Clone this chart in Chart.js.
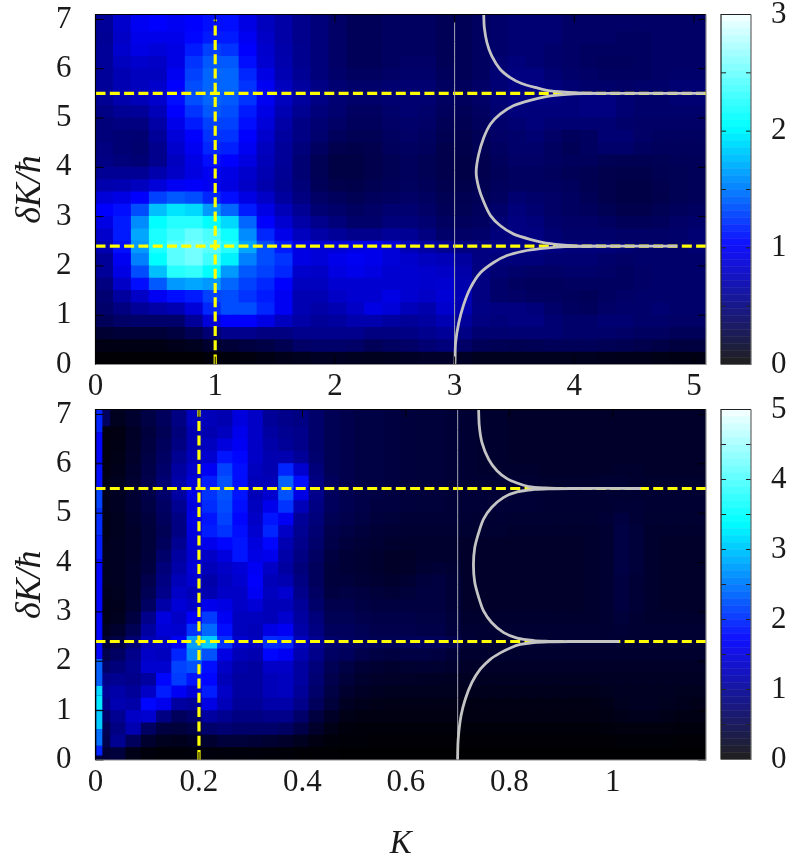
<!DOCTYPE html>
<html>
<head>
<meta charset="utf-8">
<script src="https://cdn.jsdelivr.net/npm/chart.js@4"></script>
<style>
html, body { margin: 0; background: #fff; }
canvas { position: absolute; }
</style>
</head>
<body>
<canvas id="topMap" width="720" height="400" style="left:0;top:0"></canvas>
<canvas id="topBar" width="89" height="400" style="left:700px;top:0"></canvas>
<canvas id="lowMap" width="720" height="469" style="left:0;top:395px"></canvas>
<canvas id="lowBar" width="89" height="400" style="left:700px;top:395px"></canvas>
<script>
// row heights in deltaK, bottom row first (the top row reaches the axis end at 7.1)
const rowHeights = [.25,.25,.25,.25,.25,.25,.25,.25,.25,.25,.25,.25,.25,.25,.25,.25,.25,.25,.25,.25,.25,.25,.25,.25,.25,.25,.25,.35];

// column centres in K
const topK = [.075,.225,.375,.525,.675,.825,.975,1.125,1.275,1.425,1.575,1.725,1.875,2.025,2.175,2.325,2.475,2.625,2.775,2.925,3.075,3.225,3.375,3.525,3.675,3.825,3.975,4.125,4.275,4.425,4.575,4.725,4.875,5.025];
const lowK = [.01475,.04425,.07375,.10325,.13275,.16225,.19175,.22125,.25075,.28025,.30975,.33925,.36875,.39825,.42775,.45725,.48675,.51625,.54575,.57525,.60475,.63425,.66375,.69325,.72275,.75225,.78175,.81125,.84075,.87025,.89975,.92925,.95875,.98825,1.01775,1.04725,1.07675,1.10625,1.13575,1.16525];

// upper panel, rows listed from deltaK = 7 down to 0, 34 columns over K = 0..5.1
const topRows = [
[.6,.8,.95,1,.95,1,1.05,1.05,.9,.75,.65,.55,.48,.4,.35,.35,.38,.38,.38,.34,.34,.38,.42,.45,.45,.45,.4,.4,.4,.4,.4,.4,.4,.4],
[.58,.78,.92,.92,.92,1.02,1.1,1.1,.95,.78,.65,.55,.48,.4,.35,.35,.38,.38,.38,.34,.34,.38,.42,.45,.45,.45,.4,.4,.4,.38,.38,.4,.4,.4],
[.6,.8,.9,.85,.9,1.1,1.25,1.2,1,.8,.67,.56,.48,.4,.35,.35,.38,.38,.38,.34,.34,.38,.42,.45,.45,.42,.4,.38,.38,.38,.38,.4,.4,.4],
[.6,.75,.8,.78,.9,1.2,1.35,1.35,1.05,.82,.68,.56,.48,.4,.35,.35,.38,.4,.4,.34,.34,.38,.44,.48,.45,.42,.4,.38,.36,.36,.38,.4,.4,.4],
[.6,.7,.75,.75,.95,1.25,1.4,1.4,1.15,.9,.7,.58,.48,.42,.38,.38,.4,.42,.42,.36,.34,.38,.46,.5,.5,.45,.42,.4,.38,.38,.38,.4,.42,.42],
[.6,.7,.75,.8,1,1.3,1.4,1.4,1.2,.95,.75,.62,.52,.45,.42,.42,.44,.44,.44,.38,.36,.4,.46,.5,.5,.48,.45,.42,.42,.4,.42,.42,.45,.45],
[.58,.68,.72,.8,1.05,1.3,1.4,1.35,1.2,.95,.75,.62,.52,.45,.42,.42,.44,.44,.44,.38,.36,.4,.46,.5,.5,.5,.48,.5,.5,.45,.42,.42,.45,.45],
[.52,.58,.6,.72,1,1.2,1.35,1.3,1.1,.9,.7,.57,.48,.43,.38,.38,.42,.44,.42,.36,.34,.38,.44,.48,.48,.48,.48,.5,.5,.45,.42,.42,.42,.42],
[.48,.5,.5,.65,.92,1.1,1.25,1.25,1.05,.85,.65,.52,.45,.4,.36,.36,.4,.42,.4,.34,.32,.36,.42,.45,.48,.45,.45,.45,.45,.42,.4,.4,.4,.4],
[.48,.46,.45,.6,.85,1,1.2,1.2,1,.8,.62,.52,.43,.36,.33,.33,.38,.4,.38,.32,.3,.34,.4,.42,.45,.4,.36,.38,.45,.45,.4,.38,.38,.38],
[.5,.46,.43,.55,.8,.95,1.15,1.12,.95,.75,.6,.48,.38,.31,.29,.31,.36,.38,.36,.3,.29,.33,.38,.42,.42,.38,.34,.38,.42,.42,.38,.36,.36,.36],
[.52,.48,.46,.55,.75,.9,1.05,1,.88,.72,.6,.45,.33,.27,.27,.3,.33,.36,.33,.3,.28,.31,.36,.4,.4,.38,.36,.36,.33,.32,.32,.33,.35,.35],
[.58,.58,.58,.68,.78,.88,.95,.9,.8,.7,.58,.45,.33,.27,.27,.3,.33,.36,.33,.3,.28,.31,.35,.38,.38,.36,.34,.32,.3,.29,.29,.32,.33,.35],
[.68,.7,.75,.85,.95,.98,.95,.88,.78,.68,.57,.47,.35,.3,.29,.32,.35,.37,.35,.31,.29,.32,.36,.38,.38,.38,.36,.32,.3,.28,.28,.31,.33,.35],
[.85,.9,1,1.25,1.35,1.3,1.15,1.05,.9,.78,.62,.5,.4,.36,.33,.36,.38,.4,.38,.33,.32,.34,.38,.44,.42,.4,.38,.34,.3,.28,.28,.3,.33,.35],
[1,1.05,1.3,1.75,1.9,1.85,1.6,1.4,1.1,.9,.72,.58,.45,.42,.38,.4,.44,.44,.4,.35,.33,.36,.42,.48,.44,.4,.38,.36,.33,.3,.3,.33,.36,.38],
[.9,1.1,1.55,2,2.15,2.15,2,1.85,1.4,1,.82,.65,.55,.48,.42,.42,.48,.48,.44,.38,.36,.38,.45,.5,.48,.42,.4,.4,.38,.35,.35,.36,.4,.42],
[.8,1.1,1.65,2.1,2.25,2.4,2.3,2.05,1.55,1.15,.92,.75,.65,.6,.55,.55,.6,.58,.5,.42,.4,.42,.48,.5,.5,.45,.42,.42,.42,.4,.4,.4,.42,.45],
[.7,1.05,1.6,2.1,2.35,2.45,2.35,2.15,1.65,1.3,1.1,.9,.85,.85,.9,.92,.85,.72,.65,.58,.5,.5,.52,.52,.52,.5,.48,.48,.48,.45,.42,.42,.42,.45],
[.6,.95,1.5,2,2.35,2.45,2.25,1.95,1.5,1.3,1.2,.9,.85,.92,.95,.92,.85,.8,.75,.72,.62,.5,.48,.48,.48,.45,.45,.45,.42,.4,.42,.42,.42,.42],
[.6,.9,1.3,1.75,2.15,2.2,2,1.6,1.35,1.25,1.15,.8,.78,.88,.92,.88,.82,.82,.8,.78,.66,.5,.45,.42,.4,.4,.42,.42,.4,.38,.4,.42,.42,.42],
[.5,.78,1.05,1.35,1.6,1.65,1.6,1.4,1.25,1.15,1,.75,.75,.82,.82,.82,.82,.82,.8,.82,.68,.5,.42,.38,.36,.36,.38,.38,.38,.38,.4,.42,.42,.42],
[.45,.62,.78,.95,1.05,1.1,1.25,1.3,1.2,1.1,.95,.7,.7,.78,.82,.82,.9,.82,.78,.84,.7,.5,.42,.4,.38,.38,.36,.35,.38,.4,.42,.42,.42,.42],
[.42,.5,.6,.65,.7,.85,1.15,1.3,1.3,1.15,.95,.7,.65,.7,.78,.9,.85,.73,.68,.8,.68,.52,.5,.5,.48,.42,.38,.36,.4,.42,.42,.45,.42,.42],
[.35,.4,.42,.42,.42,.6,.85,1,1,.9,.75,.65,.6,.62,.68,.68,.63,.6,.63,.7,.6,.5,.48,.5,.5,.45,.42,.42,.45,.45,.42,.42,.4,.4],
[.2,.22,.22,.22,.25,.33,.45,.55,.55,.5,.5,.55,.55,.55,.55,.5,.5,.52,.56,.6,.52,.44,.44,.45,.45,.45,.42,.42,.42,.4,.38,.38,.35,.35],
[.08,.08,.08,.08,.1,.12,.18,.22,.25,.28,.32,.4,.42,.42,.4,.35,.38,.4,.45,.48,.4,.35,.33,.32,.33,.35,.35,.35,.33,.32,.3,.28,.25,.25],
[.02,.02,.02,.02,.02,.02,.04,.05,.06,.08,.1,.12,.14,.14,.13,.12,.13,.15,.17,.17,.15,.12,.12,.12,.12,.12,.12,.12,.11,.1,.1,.09,.08,.08]
];

// lower panel, rows from deltaK = 7 down to 0, 40 columns over K = 0..1.18
const lowRows = [
[.6,.2,.3,.45,.6,.85,1.25,1.2,1.15,1.45,1.3,1,.9,.85,.7,.55,.5,.45,.45,.42,.4,.38,.38,.36,.33,.3,.3,.28,.28,.28,.28,.28,.28,.28,.28,.28,.28,.28,.28,.28],
[.1,.12,.25,.4,.55,.8,1.15,1.15,1.25,1.55,1.3,1.05,.95,.9,.7,.55,.5,.45,.45,.42,.4,.38,.38,.36,.33,.3,.3,.28,.28,.28,.28,.28,.28,.28,.28,.28,.28,.28,.28,.28],
[.1,.13,.27,.42,.6,.85,1.15,1.25,1.45,1.6,1.3,1.1,1,.9,.7,.55,.5,.45,.45,.42,.4,.38,.38,.36,.33,.3,.3,.28,.28,.28,.28,.28,.28,.28,.28,.28,.28,.28,.28,.28],
[.1,.15,.28,.45,.65,.95,1.2,1.35,1.8,1.7,1.3,1.15,1.15,1,.72,.55,.5,.45,.45,.42,.4,.38,.38,.36,.33,.3,.3,.28,.28,.28,.28,.28,.28,.28,.28,.28,.28,.28,.28,.28],
[.12,.17,.3,.48,.7,1.05,1.3,1.6,2.1,1.75,1.25,1.15,1.9,1.35,.8,.55,.5,.45,.45,.42,.4,.38,.38,.36,.33,.3,.3,.3,.3,.28,.28,.28,.28,.28,.3,.3,.28,.28,.28,.28],
[.15,.2,.32,.5,.75,1.1,1.4,1.85,2.2,1.75,1.2,1.2,2.3,1.75,.85,.6,.5,.45,.45,.42,.4,.38,.38,.36,.33,.33,.33,.33,.33,.3,.3,.3,.3,.33,.33,.3,.3,.3,.3,.3],
[.18,.22,.33,.48,.7,1.05,1.5,2,2.2,1.8,1.2,1.35,2.2,1.5,.9,.6,.52,.48,.45,.42,.4,.38,.38,.36,.35,.35,.35,.35,.35,.33,.33,.33,.33,.33,.33,.33,.33,.33,.33,.33],
[.18,.22,.33,.45,.65,.95,1.45,1.95,2.15,1.75,1.25,1.55,2,1.2,.85,.6,.52,.48,.42,.42,.4,.38,.38,.36,.35,.35,.35,.35,.35,.33,.33,.33,.33,.33,.35,.35,.33,.33,.33,.33],
[.15,.2,.3,.4,.6,.85,1.5,1.8,2.1,1.7,1.3,1.8,1.6,1,.8,.55,.5,.45,.4,.38,.36,.36,.36,.35,.33,.33,.33,.32,.32,.32,.32,.32,.32,.35,.42,.35,.32,.32,.32,.32],
[.15,.2,.28,.38,.55,.85,1.45,1.85,2,1.75,1.35,1.9,1.3,.95,.75,.5,.45,.4,.36,.34,.33,.33,.33,.33,.32,.32,.32,.3,.3,.3,.3,.3,.3,.33,.45,.38,.3,.3,.3,.3],
[.18,.22,.28,.38,.6,.95,1.4,1.55,1.7,1.8,1.45,1.7,1.15,.9,.7,.48,.4,.36,.33,.3,.3,.3,.3,.3,.28,.28,.28,.28,.28,.28,.28,.28,.3,.33,.45,.38,.3,.28,.28,.28],
[.2,.22,.28,.4,.7,1.05,1.35,1.3,1.45,1.8,1.5,1.55,1.1,.85,.65,.42,.36,.33,.3,.27,.27,.3,.3,.3,.28,.28,.28,.28,.28,.28,.28,.28,.3,.33,.45,.38,.3,.28,.28,.28],
[.2,.22,.3,.42,.8,1.1,1.4,1.2,1.3,1.4,1.6,1.3,1.05,.8,.6,.4,.36,.33,.3,.27,.28,.33,.36,.33,.28,.28,.28,.28,.28,.28,.28,.28,.3,.33,.45,.38,.3,.28,.28,.28],
[.2,.22,.3,.5,.85,1.2,1.35,1.1,1.25,1.35,1.65,1.2,1.15,.85,.6,.4,.4,.36,.33,.3,.33,.4,.42,.36,.28,.28,.28,.28,.28,.28,.28,.28,.3,.33,.42,.36,.3,.28,.28,.28],
[.18,.2,.3,.55,.9,1.3,1.2,1.15,1.3,1.3,1.6,1.25,1.35,.9,.65,.42,.45,.42,.38,.36,.38,.42,.42,.36,.28,.28,.28,.28,.28,.28,.28,.28,.3,.33,.42,.36,.3,.28,.28,.28],
[.15,.18,.32,.65,1.1,1.4,1.3,1.55,1.5,1.3,1.4,1.2,1.2,1,.7,.5,.5,.45,.42,.42,.42,.42,.42,.36,.28,.28,.28,.28,.28,.28,.28,.28,.3,.33,.42,.36,.3,.28,.28,.28],
[.15,.2,.42,.9,1.45,1.3,1.65,2.05,1.6,1.25,1.25,1.2,1.35,1.05,.8,.55,.55,.5,.48,.48,.48,.45,.45,.38,.3,.3,.3,.3,.3,.3,.3,.3,.3,.33,.38,.33,.3,.3,.3,.3],
[.22,.3,.55,1.05,1.4,1.35,2,2.35,1.75,1.25,1.2,1.5,1.6,1.1,.85,.6,.6,.55,.5,.5,.5,.48,.48,.4,.33,.33,.33,.33,.33,.33,.33,.33,.33,.33,.36,.33,.33,.33,.33,.33],
[.35,.45,.75,1.2,1.3,1.6,2.7,3,2,1.35,1.25,1.95,1.9,1.25,.95,.7,.65,.6,.55,.55,.58,.6,.58,.5,.35,.33,.33,.33,.33,.33,.33,.33,.33,.33,.33,.33,.33,.33,.33,.33],
[.5,.65,.9,1.3,1.25,1.9,2.55,2.2,1.5,1.2,1.15,1.7,1.6,1.15,.9,.65,.6,.5,.45,.42,.45,.45,.42,.36,.3,.3,.3,.3,.3,.3,.3,.3,.3,.3,.3,.3,.3,.3,.3,.3],
[.7,.8,.95,1.35,1.35,2.1,2.2,1.75,1.3,1.1,1.05,1.3,1.3,1.05,.8,.55,.45,.36,.33,.3,.32,.33,.32,.3,.27,.27,.27,.27,.27,.27,.27,.27,.27,.27,.27,.27,.27,.27,.27,.27],
[.9,.95,.9,1.05,1.7,2.05,1.8,1.7,1.2,1.05,1.05,1.2,1.25,1.05,.75,.5,.38,.3,.28,.26,.26,.25,.24,.22,.22,.22,.22,.22,.22,.22,.22,.22,.22,.24,.24,.24,.24,.24,.24,.24],
[1,1.1,1,1.3,1.85,1.6,1.4,1.85,1.3,1.05,1.05,1.2,1.25,1,.7,.45,.3,.25,.22,.2,.2,.2,.2,.2,.18,.18,.18,.18,.18,.18,.18,.18,.18,.2,.22,.22,.22,.22,.2,.2],
[.9,1.15,1.1,1.7,1.55,1.05,1,1.5,1.2,1,1,1.1,1.1,.9,.6,.38,.22,.18,.16,.15,.15,.15,.15,.15,.14,.14,.14,.14,.14,.14,.14,.14,.14,.16,.2,.22,.22,.2,.18,.16],
[.7,.95,1.3,1.35,.85,.6,.7,1.05,.95,.85,.85,.9,.9,.7,.42,.25,.15,.12,.12,.12,.12,.12,.12,.12,.12,.12,.12,.12,.12,.12,.12,.12,.12,.13,.16,.18,.18,.16,.14,.13],
[.55,.85,1.15,.65,.42,.38,.45,.7,.75,.7,.7,.7,.65,.48,.28,.15,.08,.07,.07,.07,.07,.07,.07,.07,.07,.07,.07,.07,.07,.07,.07,.07,.07,.08,.1,.1,.1,.09,.08,.08],
[.5,.95,.6,.3,.2,.18,.22,.3,.38,.38,.35,.32,.28,.2,.12,.07,.05,.05,.04,.04,.04,.04,.04,.04,.04,.04,.04,.04,.04,.04,.04,.04,.04,.04,.05,.05,.05,.05,.04,.04],
[.35,.4,.15,.08,.06,.06,.07,.08,.08,.08,.08,.07,.06,.04,.03,.03,.02,.02,.02,.02,.02,.02,.02,.02,.02,.02,.02,.02,.02,.02,.02,.02,.02,.02,.02,.02,.02,.02,.02,.02]
];

// the narrow bright column right at K = 0 in the lower panel
const stripK = [.0074,.0074,.0074,.0074,.0074,.0074,.0074,.0074,.0074,.0074,.0074,.0074,.0074,.0074,.0074,.0074];
const stripDK = [.03,.09,.29,.63,1.03,1.3,1.5,2.05,3.06,4.07,4.55,5.09,5.49,6.03,6.64,7.1];
const stripVal = [.4,1.9,2.4,3,3.2,3.1,2.3,1.7,1.7,1.85,1.95,2.1,1.75,1.7,1.9,1.9];

// grey theory curves, upper panel
const topCurveA = [[3,0],[3.003,.03],[3.008,.44],[3.034,.84],[3.075,1.21],[3.131,1.55],[3.215,1.86],[3.326,2.07],[3.438,2.21],[3.577,2.3],[3.717,2.35],[3.856,2.38],[4,2.395],[4.2,2.4],[4.5,2.4],[4.86,2.4]];
const topCurveB = [[4.2,2.4],[4,2.405],[3.8,2.45],[3.63,2.54],[3.49,2.65],[3.38,2.82],[3.3,3.02],[3.243,3.3],[3.2,3.6],[3.18,3.9],[3.2,4.25],[3.243,4.6],[3.3,4.88],[3.38,5.08],[3.49,5.25],[3.63,5.36],[3.8,5.45],[4,5.49],[4.2,5.5],[4.5,5.5],[5.09,5.5]];
const topCurveC = [[4.2,5.5],[4,5.515],[3.8,5.55],[3.69,5.61],[3.56,5.7],[3.465,5.82],[3.38,5.99],[3.31,6.26],[3.27,6.53],[3.248,6.84],[3.243,7.1]];
// grey theory curves, lower panel
const lowCurveA = [[.6998,.01],[.701,.42],[.7064,.89],[.7147,1.23],[.7276,1.57],[.7437,1.84],[.763,2.04],[.7824,2.17],[.8017,2.27],[.821,2.34],[.847,2.38],[.875,2.395],[.92,2.4],[1.012,2.4]];
const lowCurveB = [[.9,2.4],[.875,2.405],[.847,2.42],[.815,2.47],[.789,2.58],[.766,2.78],[.75,3.02],[.7405,3.3],[.733,3.6],[.7305,3.95],[.733,4.3],[.7405,4.6],[.75,4.88],[.766,5.12],[.789,5.32],[.815,5.43],[.847,5.48],[.875,5.495],[.92,5.5],[1.054,5.5]];
const lowCurveC = [[.9,5.5],[.87,5.51],[.837,5.54],[.8147,5.61],[.7954,5.7],[.776,5.86],[.76,6.09],[.747,6.43],[.7418,6.77],[.7405,7.1]];

// dashed yellow guides
const levelLines = [2.4, 5.5];
const topGuideK = 1;
const lowGuideK = .2;
// thin vertical marker
const topMarkK = 3;
const lowMarkK = .7;

const dkTicks = [0,1,2,3,4,5,6,7];
const topKTicks = [0,1,2,3,4,5];
const lowKTicks = [0,.2,.4,.6,.8,1];
const topBarTicks = [0,1,2,3];
const topBarMinor = [.5,1,1.5,2,2.5];
const lowBarTicks = [0,1,2,3,4,5];
const lowBarMinor = [.5,1,1.5,2,2.5,3,3.5,4,4.5];
// colour bar bands, as a fraction of the scale maximum
const barLevels = [0,.02,.04,.06,.08,.1,.12,.14,.16,.18,.2,.22,.24,.26,.28,.3,.32,.34,.36,.38,.4,.42,.44,.46,.48,.5,.52,.54,.56,.58,.6,.62,.64,.66,.68,.7,.72,.74,.76,.78,.8,.82,.84,.86,.88,.9,.92,.94,.96,.98];

const heatStops = [[0,0,0],[0,0,255],[0,255,255],[255,255,255]];
const barStops = [[32,32,36],[16,16,255],[0,255,255],[255,255,255]];

const serif = '"Liberation Serif", serif';
const YELLOW = '#ffff00';
const GREY = '#c4c4c4';

function mapColor(stops, f) {
    const t = Math.min(Math.max(f, 0), 1) * (stops.length - 1);
    const i = Math.min(Math.floor(t), stops.length - 2);
    const c = stops[i].map((v, k) => Math.round(v + (stops[i + 1][k] - v) * (t - i)));
    return `rgb(${c[0]},${c[1]},${c[2]})`;
}

// frame and inward ticks, gnuplot style
const frameTicks = {
    id: 'frameTicks',
    afterDatasetsDraw(chart, args, opts) {
        const { ctx, chartArea: a, scales } = chart;
        ctx.save();
        ctx.strokeStyle = opts.tickColor;
        ctx.lineWidth = 1;
        ctx.beginPath();
        for (const v of opts.ys) {
            const y = scales.y.getPixelForValue(v);
            ctx.moveTo(a.left, y); ctx.lineTo(a.left + opts.len, y);
            ctx.moveTo(a.right, y); ctx.lineTo(a.right - opts.len, y);
        }
        for (const v of opts.xs) {
            const x = scales.x.getPixelForValue(v);
            ctx.moveTo(x, a.top); ctx.lineTo(x, a.top + opts.len);
            ctx.moveTo(x, a.bottom); ctx.lineTo(x, a.bottom - opts.len);
        }
        ctx.stroke();
        ctx.lineWidth = 1.2;
        ctx.strokeStyle = opts.darkEdge;
        ctx.beginPath();
        ctx.moveTo(a.left, a.bottom); ctx.lineTo(a.left, a.top); ctx.lineTo(a.right, a.top);
        ctx.stroke();
        ctx.strokeStyle = opts.lightEdge;
        ctx.beginPath();
        ctx.moveTo(a.left, a.bottom); ctx.lineTo(a.right, a.bottom); ctx.lineTo(a.right, a.top);
        ctx.stroke();
        ctx.restore();
    }
};

function cellDatasets(rows, cols, max) {
    const sets = [];
    for (let r = rows.length - 1; r >= 0; r--) {
        const h = rowHeights[rows.length - 1 - r];
        sets.push({
            type: 'bar',
            stack: 'cells',
            order: 3,
            data: cols.map(k => ({ x: k, y: h })),
            backgroundColor: rows[r].map(v => mapColor(heatStops, v / max)),
            borderWidth: 0,
            inflateAmount: .5,
            barPercentage: 1,
            categoryPercentage: 1
        });
    }
    return sets;
}

function lineSet(points, color, width, order, dash) {
    return {
        type: 'line',
        data: points.map(p => ({ x: p[0], y: p[1] })),
        borderColor: color,
        borderWidth: width,
        borderDash: dash || [],
        pointRadius: 0,
        tension: dash ? 0 : .3,
        order: order
    };
}

function heatChart(id, opts) {
    const dash = [10, 4.3];
    const datasets = cellDatasets(opts.rows, opts.cols, opts.max);
    if (opts.strip) datasets.push(opts.strip);
    datasets.push(lineSet([[opts.guideK, 0], [opts.guideK, opts.guideTop]], YELLOW, 3.2, 2, dash));
    for (const lvl of levelLines) {
        datasets.push(lineSet([[0, lvl], [opts.kMax, lvl]], YELLOW, 3.2, 2, dash));
    }
    datasets.push(lineSet([[opts.markK, 0], [opts.markK, opts.markTop]], '#a4a4b4', 1, 1));
    for (const c of opts.curves) datasets.push(lineSet(c, GREY, 2.8, 0));

    return new Chart(document.getElementById(id), {
        type: 'bar',
        plugins: [frameTicks],
        data: { datasets: datasets },
        options: {
            responsive: false,
            animation: false,
            layout: { padding: { top: 14.5, right: 14, left: 0, bottom: 0 } },
            plugins: {
                legend: { display: false },
                tooltip: { enabled: false },
                frameTicks: { xs: opts.kTicks, ys: dkTicks, len: 8, tickColor: '#000', darkEdge: '#000', lightEdge: '#8c8c8c' }
            },
            scales: {
                x: {
                    type: 'linear',
                    position: 'bottom',
                    offset: false,
                    min: 0,
                    max: opts.kMax,
                    grid: { display: false, drawTicks: false, offset: false },
                    border: { display: false },
                    afterBuildTicks: s => { s.ticks = opts.kTicks.map(v => ({ value: v })); },
                    afterFit: s => { s.height = opts.xHeight; s.paddingLeft = 0; s.paddingRight = 0; },
                    ticks: {
                        maxRotation: 0,
                        autoSkip: false,
                        padding: 4,
                        color: '#1a1a1a',
                        font: { family: serif, size: 31 },
                        callback: v => String(+v.toFixed(1))
                    },
                    title: {
                        display: !!opts.xTitle,
                        text: opts.xTitle,
                        color: '#1a1a1a',
                        padding: 0,
                        font: { family: serif, size: 33, style: 'italic' }
                    }
                },
                y: {
                    type: 'linear',
                    min: 0,
                    max: 7.1,
                    grid: { display: false, drawTicks: false },
                    border: { display: false },
                    afterBuildTicks: s => { s.ticks = dkTicks.map(v => ({ value: v })); },
                    afterFit: s => { s.width = 95.5; s.paddingTop = 0; s.paddingBottom = 0; },
                    ticks: { padding: 24, color: '#1a1a1a', font: { family: serif, size: 31 } },
                    title: {
                        display: true,
                        text: 'δK/ħ',
                        color: '#1a1a1a',
                        padding: { top: 9, bottom: 0 },
                        font: { family: serif, size: 36, style: 'italic' }
                    }
                }
            }
        }
    });
}

function barChart(id, max, ticks, minor) {
    const datasets = barLevels.map(l => ({
        data: [max * .02],
        stack: 'bar',
        backgroundColor: mapColor(barStops, l),
        borderWidth: 0,
        inflateAmount: .3,
        barPercentage: 1,
        categoryPercentage: 1
    }));
    return new Chart(document.getElementById(id), {
        type: 'bar',
        plugins: [frameTicks],
        data: { labels: ['scale'], datasets: datasets },
        options: {
            responsive: false,
            animation: false,
            layout: { padding: { top: 14.5, left: 21, right: 0, bottom: 35.5 } },
            plugins: {
                legend: { display: false },
                tooltip: { enabled: false },
                frameTicks: { xs: [], ys: minor, len: 5, tickColor: '#222', darkEdge: '#222', lightEdge: '#666' }
            },
            scales: {
                x: { display: false },
                y: {
                    position: 'right',
                    min: 0,
                    max: max,
                    grid: { display: false, drawTicks: false },
                    border: { display: false },
                    afterBuildTicks: s => { s.ticks = ticks.map(v => ({ value: v })); },
                    afterFit: s => { s.width = 38; s.paddingTop = 0; s.paddingBottom = 0; },
                    ticks: { padding: 20, color: '#1a1a1a', font: { family: serif, size: 31 } }
                }
            }
        }
    });
}

heatChart('topMap', {
    rows: topRows, cols: topK, max: 3, kMax: 5.1, kTicks: topKTicks, xHeight: 35.5,
    guideK: topGuideK, guideTop: 7, markK: topMarkK, markTop: 6.95,
    curves: [topCurveA, topCurveB, topCurveC]
});
barChart('topBar', 3, topBarTicks, topBarMinor);

heatChart('lowMap', {
    rows: lowRows, cols: lowK, max: 5, kMax: 1.18, kTicks: lowKTicks, xHeight: 104, xTitle: 'K',
    guideK: lowGuideK, guideTop: 7.1, markK: lowMarkK, markTop: 7.1,
    curves: [lowCurveA, lowCurveB, lowCurveC],
    strip: {
        type: 'line',
        data: stripK.map((k, i) => ({ x: k, y: stripDK[i] })),
        borderWidth: 6,
        pointRadius: 0,
        order: 2.5,
        segment: { borderColor: c => mapColor(heatStops, stripVal[c.p0DataIndex] / 5) }
    }
});
barChart('lowBar', 5, lowBarTicks, lowBarMinor);
</script>
</body>
</html>
